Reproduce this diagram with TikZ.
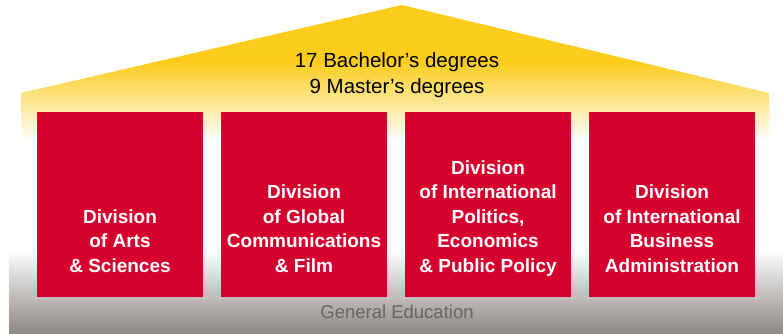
\documentclass[tikz,border=0pt]{standalone}
\usepackage{fontspec}
\setmainfont{Liberation Sans}
\definecolor{roofyellow}{HTML}{FDCD1E}
\definecolor{divred}{HTML}{D5002D}
\definecolor{basegray}{HTML}{8C8782}
\definecolor{textgray}{HTML}{666666}
\tikzset{
  divbox/.style={fill=divred, draw=none},
  divtext/.style={anchor=base, text=white, font=\fontsize{19}{24.4}\selectfont\bfseries, align=center, inner sep=0pt},
  rooftext/.style={anchor=base, text=black, font=\fontsize{20.5}{26}\selectfont, align=center, inner sep=0pt}
}
\begin{document}
\begin{tikzpicture}[x=1pt,y=-1pt]
\useasboundingbox (0,0) rectangle (783,334);
% base gray band
\shade[top color=white, bottom color=basegray] (9,250) rectangle (783,334);
% roof
\begin{scope}
  \clip (21,93) -- (402,5) -- (769,93) -- (769,140) -- (21,140) -- cycle;
  \fill[roofyellow] (0,0) rectangle (783,62);
  \shade[top color=roofyellow, bottom color=white] (0,62) rectangle (783,140);
\end{scope}
\node[rooftext] (deg) at (397,94) {17 Bachelor’s degrees\\9 Master’s degrees};
% boxes
\fill[divbox] (37,112) rectangle (203,297);
\fill[divbox] (221,112) rectangle (387,297);
\fill[divbox] (405,112) rectangle (571,297);
\fill[divbox] (589,112) rectangle (755,297);
\node[divtext] (d1) at (120,272) {Division\\of Arts\\\& Sciences};
\node[divtext] (d2) at (304,272) {Division\\of Global\\Communications\\\& Film};
\node[divtext] (d3) at (488,272) {Division\\of International\\Politics,\\Economics\\\& Public Policy};
\node[divtext] (d4) at (672,272) {Division\\of International\\Business\\Administration};
\node[anchor=base, text=textgray, font=\fontsize{18.5}{22}\selectfont, inner sep=0pt] (ge) at (397,318) {General Education};
\end{tikzpicture}
\end{document}
